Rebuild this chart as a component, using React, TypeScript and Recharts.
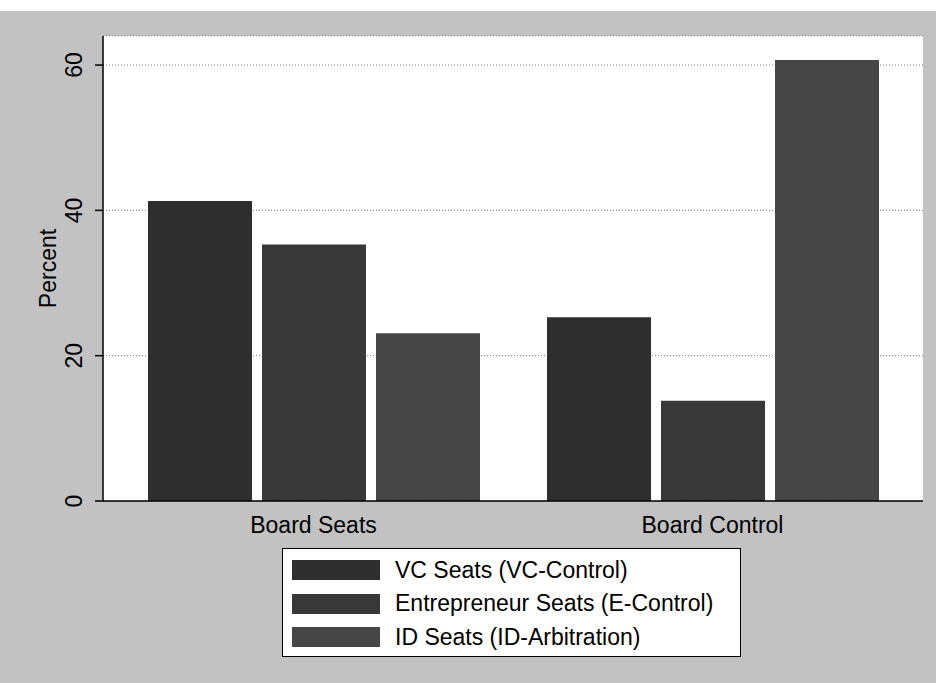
import { BarChart, Bar, XAxis, YAxis, CartesianGrid } from 'recharts';

const categories = ['Board Seats', 'Board Control'];
const vcSeats = [41.3, 25.3];
const entrepreneurSeats = [35.3, 13.8];
const idSeats = [23.1, 60.7];
const seriesNames = [
  'VC Seats (VC-Control)',
  'Entrepreneur Seats (E-Control)',
  'ID Seats (ID-Arbitration)',
];
const yTicks = [0, 20, 40, 60];

const colors = ['#2e2e2e', '#383838', '#464646'];
const font = '"Liberation Sans", Arial, Helvetica, sans-serif';

const data = categories.map((category, i) => ({
  category,
  vc: vcSeats[i],
  ent: entrepreneurSeats[i],
  id: idSeats[i],
}));

const keys = ['vc', 'ent', 'id'];

function YTick({ x, y, payload }: any) {
  const bx = x - 11;
  return (
    <text
      x={bx}
      y={y}
      transform={`rotate(-90, ${bx}, ${y})`}
      textAnchor="middle"
      fontFamily={font}
      fontSize={23}
      fill="#000"
    >
      {payload.value}
    </text>
  );
}

function XTick({ x, y, payload }: any) {
  return (
    <text x={x} y={y + 32} textAnchor="middle" fontFamily={font} fontSize={23} fill="#000">
      {payload.value}
    </text>
  );
}

function PercentLabel({ viewBox }: any) {
  const cy = viewBox.y + viewBox.height / 2;
  const bx = 56;
  return (
    <text
      x={bx}
      y={cy}
      transform={`rotate(-90, ${bx}, ${cy})`}
      textAnchor="middle"
      fontFamily={font}
      fontSize={23}
      fill="#000"
    >
      Percent
    </text>
  );
}

export default function App() {
  return (
    <div
      style={{
        position: 'absolute',
        left: 0,
        top: 0,
        width: 936,
        height: 683,
        background: '#c2c2c2',
        overflow: 'hidden',
      }}
    >
      <div style={{ position: 'absolute', left: 0, top: 0, width: 936, height: 11, background: '#fff' }} />
      <BarChart
        width={936}
        height={683}
        data={data}
        margin={{ top: 36, right: 13, bottom: 142, left: 43 }}
        barSize={104}
        barGap={10}
      >
        <CartesianGrid
          vertical={false}
          fill="#ffffff"
          stroke="#7a7a7a"
          strokeDasharray="1 2"
        />
        <XAxis
          dataKey="category"
          height={40}
          padding={{ left: 11, right: 11 }}
          tickLine={false}
          tickSize={0}
          tickMargin={0}
          axisLine={{ stroke: '#000', strokeWidth: 1.5 }}
          tick={<XTick />}
        />
        <YAxis
          width={60}
          domain={[0, 64]}
          ticks={yTicks}
          allowDataOverflow
          tickSize={8}
          tickMargin={2}
          tickLine={{ stroke: '#000', strokeWidth: 1.5 }}
          axisLine={{ stroke: '#000', strokeWidth: 1.5 }}
          tick={<YTick />}
          label={<PercentLabel />}
        />
        {keys.map((k, i) => (
          <Bar key={k} dataKey={k} name={seriesNames[i]} fill={colors[i]} isAnimationActive={false} />
        ))}
      </BarChart>
      <div
        style={{
          position: 'absolute',
          left: 282,
          top: 548,
          width: 459,
          height: 109,
          boxSizing: 'border-box',
          border: '1.5px solid #000',
          background: '#fff',
          fontFamily: font,
          fontSize: 23,
        }}
      >
        {seriesNames.map((name, i) => (
          <div
            key={name}
            style={{
              position: 'absolute',
              left: 9,
              top: 10 + i * 33.5,
              height: 22,
              display: 'flex',
              alignItems: 'center',
              whiteSpace: 'nowrap',
            }}
          >
            <div style={{ width: 88, height: 20, background: colors[i], marginRight: 15 }} />
            <span>{name}</span>
          </div>
        ))}
      </div>
    </div>
  );
}
